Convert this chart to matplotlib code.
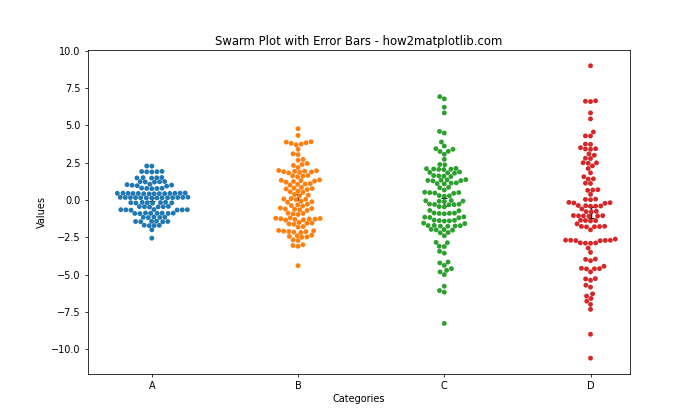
import matplotlib
matplotlib.use("Agg")
import matplotlib.pyplot as plt
import numpy as np
import pandas as pd
import seaborn as sns

categories = ["A", "B", "C", "D"]

values_a = [2.27, 2.28,
            1.89, 1.9, 1.91, 1.92, 1.88,
            1.48, 1.49, 1.5, 1.51, 1.47,
            1.21, 1.22, 1.23, 1.24, 1.2,
            0.99, 1.03, 0.96, 1.06, 0.93, 1.0,
            0.77, 0.78, 0.79, 0.8, 0.76,
            0.44, 0.43, 0.45, 0.42, 0.46, 0.44, 0.43, 0.45, 0.41, 0.47, 0.44, 0.42, 0.45, 0.46,
            0.16, 0.15, 0.17, 0.14, 0.18, 0.16, 0.15, 0.17, 0.13, 0.19, 0.16, 0.14, 0.18, 0.15,
            -0.18, -0.17, -0.19, -0.16, -0.2, -0.18, -0.15, -0.21,
            -0.45, -0.44, -0.46, -0.43, -0.47, -0.45,
            -0.66, -0.65, -0.67, -0.64, -0.68, -0.66, -0.65,
            -0.89, -0.88, -0.9, -0.87, -0.91, -0.89, -0.88, -0.9,
            -1.16, -1.15, -1.17, -1.14, -1.18,
            -1.44, -1.43, -1.45, -1.42, -1.46, -1.44,
            -1.71, -1.7, -1.72, -1.69,
            -2.0, -2.56]

values_b = [4.78, 4.33,
            3.84, 3.75, 3.7, 3.88, 3.9, 3.8,
            3.4, 3.04, 3.1, 2.67, 2.72, 2.38, 2.45, 2.32, 2.18,
            1.9, 1.96, 1.85, 1.93, 1.88, 1.98, 1.82, 1.92,
            1.6, 1.65, 1.55, 1.62,
            1.3, 1.24, 1.35, 1.27, 1.2, 1.32,
            1.05, 1.0, 1.1, 1.07,
            0.8, 0.74, 0.84, 0.77, 0.7,
            0.55, 0.6, 0.52,
            0.33, 0.37, 0.28,
            0.07, 0.03, 0.1, 0.05,
            -0.12, -0.15, -0.08,
            -0.33, -0.28, -0.37, -0.4,
            -0.62, -0.57, -0.66, -0.6, -0.7, -0.54,
            -0.93, -0.88, -0.97, -0.9,
            -1.27, -1.24, -1.3, -1.22, -1.33, -1.26, -1.2, -1.28, -1.35,
            -1.56, -1.5, -1.6, -1.54, -1.62,
            -1.82, -1.78,
            -2.11, -2.06, -2.15, -2.09, -2.18, -2.04, -2.12,
            -2.44, -2.4, -2.48, -2.36, -2.5,
            -2.67, -2.72,
            -3.05, -3.1, -3.0,
            -4.4]

values_c = [6.93, 6.78, 6.22, 5.84, 4.6, 4.49, 3.89, 3.62, 3.44, 3.4, 3.27, 3.25, 3.07, 2.73, 2.38, 2.36,
            2.1, 2.08, 2.05, 2.12, 2.04, 2.07,
            1.85, 1.82, 1.88, 1.8,
            1.6, 1.62, 1.57, 1.64,
            1.35, 1.3, 1.33, 1.37, 1.28, 1.31,
            1.1, 1.13, 1.08, 1.15,
            0.85, 0.82, 0.67,
            0.5, 0.47, 0.52, 0.45, 0.49,
            0.28, 0.25, 0.3,
            -0.05, -0.08, -0.1, -0.03, -0.07,
            -0.27, -0.3, -0.32, -0.28, -0.31,
            -0.44, -0.46, -0.7, -0.72,
            -0.89, -0.92, -0.87, -0.9, -0.88,
            -1.15, -1.17, -1.13, -1.19,
            -1.38, -1.36, -1.4, -1.35, -1.41,
            -1.55, -1.58,
            -1.72, -1.75, -1.7, -1.74, -1.76, -1.71,
            -2.0, -1.98, -2.02, -1.97,
            -2.18, -2.2, -2.4,
            -2.84, -2.86, -3.1, -3.12, -3.44, -3.56,
            -4.16, -4.22, -4.38, -4.6, -4.71, -4.82, -5.0,
            -5.78, -6.07, -6.18, -8.27]

values_d = [9.0,
            6.62, 6.6, 6.65, 5.84, 5.44,
            4.56, 4.29, 4.3,
            3.73, 3.75, 3.51, 3.42, 3.4, 3.44,
            3.09, 3.0, 2.8, 2.78,
            2.49, 2.5, 2.47, 2.29, 2.11, 1.82,
            1.56, 1.4, 1.42, 1.11, 1.13,
            0.67, 0.65, 0.69, 0.38,
            0.04, 0.02, 0.06,
            -0.18, -0.16, -0.2, -0.22,
            -0.4, -0.38, -0.42, -0.41, -0.37, -0.6,
            -0.78, -0.8, -0.76,
            -1.07, -1.05, -1.09, -1.06, -1.08, -1.04,
            -1.38, -1.36, -1.4, -1.37, -1.6,
            -1.78, -1.8, -1.76, -1.77, -1.79, -2.0,
            -2.62, -2.71, -2.7, -2.72, -2.69, -2.73, -2.7,
            -2.89, -2.87, -2.9, -2.88,
            -3.22, -3.51, -3.96, -3.98, -4.07,
            -4.44, -4.6, -4.58, -4.62, -4.61, -4.82,
            -5.27, -5.29, -5.38, -5.71, -5.84,
            -6.29, -6.44, -6.6, -6.78, -7.0, -7.33,
            -9.0, -10.6]

series = [values_a, values_b, values_c, values_d]

df = pd.DataFrame({
    "Category": np.concatenate([[c] * len(v) for c, v in zip(categories, series)]),
    "Value": np.concatenate(series),
})

fig, ax = plt.subplots(figsize=(10, 6), dpi=70)
sns.swarmplot(x="Category", y="Value", data=df, hue="Category",
              palette=["#1f77b4", "#ff7f0e", "#2ca02c", "#d62728"],
              legend=False, ax=ax, size=5, order=categories)

means = [np.mean(v) for v in series]
sems = [np.std(v, ddof=1) / np.sqrt(len(v)) for v in series]
ax.errorbar(np.arange(len(categories)), means, yerr=sems, fmt="none",
            color="black", capsize=3)

ax.set_xlim(-0.44, 3.27)
ax.set_ylim(-11.65, 10.03)
ax.set_title("Swarm Plot with Error Bars - how2matplotlib.com")
ax.set_xlabel("Categories")
ax.set_ylabel("Values")
fig.savefig("out.png", dpi=70)
